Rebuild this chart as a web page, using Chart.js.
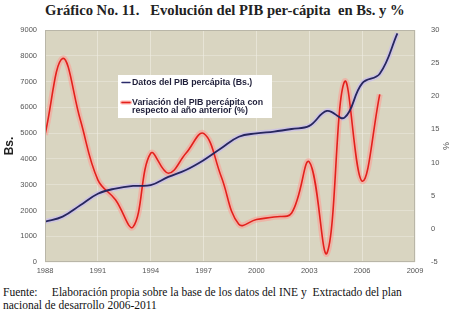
<!DOCTYPE html>
<html>
<head>
<meta charset="utf-8">
<script src="https://cdn.jsdelivr.net/npm/chart.js@4.4.1/dist/chart.umd.min.js"></script>
<style>
  body { margin: 0; background: #fff; width: 455px; height: 320px; overflow: hidden; position: relative; }
  #title { position: absolute; top: 2px; left: 0; white-space: pre; font: bold 15px "Liberation Serif", "Times New Roman", serif; color: #222; transform-origin: 0 0; }
  #wrap { position: absolute; left: 0; top: 0; width: 455px; height: 280px; }
  #foot { position: absolute; left: 3px; top: 286px; font: 11.5px "Liberation Serif", "Times New Roman", serif; color: #111; line-height: 13px; white-space: pre; }
</style>
</head>
<body>
<div id="title">Gráfico No. 11.   Evolución del PIB per-cápita  en Bs. y %</div>
<div id="wrap"><canvas id="pib" width="455" height="280"></canvas></div>
<div id="foot">Fuente:     Elaboración propia sobre la base de los datos del INE y  Extractado del plan
nacional de desarrollo 2006-2011</div>
<script>
// años y valores
var years = [1988, 1989, 1990, 1991, 1992, 1993, 1994, 1995, 1996, 1997, 1998,
             1999, 2000, 2001, 2002, 2003, 2004, 2005, 2006, 2007, 2008];
var pibBs = [1565, 1760, 2200, 2650, 2850, 2950, 2980, 3300, 3570, 3950, 4410,
             4860, 4990, 5060, 5160, 5280, 5860, 5600, 6930, 7300, 8870];
var variacion = [14.2, 25.7, 16.5, 7.4, 4.4, 0.3, 11.4, 8.4, 11.4, 14.4, 7.9,
                 0.7, 1.4, 1.8, 2.4, 10.1, -3.7, 22.2, 7.2, 20.3];
var leftTicks = [0, 1000, 2000, 3000, 4000, 5000, 6000, 7000, 8000, 9000];
var rightTicks = [-5, 0, 5, 10, 15, 20, 25, 30];
var labelPib = 'Datos del PIB percápita (Bs.)';
var labelVar = ['Variación del PIB percápita con', 'respecto al año anterior (%)'];

// titulo comprimido a lo ancho como en la imagen
var t = document.getElementById('title');
var sx = 360 / t.scrollWidth;
t.style.transform = 'scaleX(' + sx + ')';
t.style.left = '45px';

var pibPts = years.map(function(y, i) { return {x: y, y: pibBs[i]}; });
var varPts = variacion.map(function(v, i) { return {x: years[i], y: v}; });

var plotBg = {
  id: 'plotBg',
  beforeDraw: function(chart) {
    var a = chart.chartArea, ctx = chart.ctx;
    ctx.save();
    ctx.fillStyle = '#d9d5c1';
    ctx.fillRect(a.left, a.top, a.right - a.left, a.bottom - a.top);
    ctx.restore();
  },
  afterDraw: function(chart) {
    var a = chart.chartArea, ctx = chart.ctx;
    ctx.save();
    ctx.strokeStyle = '#b9b6a8';
    ctx.lineWidth = 1;
    ctx.strokeRect(a.left + 0.5, a.top + 0.5, a.right - a.left - 1, a.bottom - a.top - 1);
    // leyenda dentro del area
    var bx = 118, by = 75, bw = 154, bh = 43;
    ctx.fillStyle = '#ffffff';
    ctx.fillRect(bx, by, bw, bh);
    ctx.lineCap = 'round';
    ctx.strokeStyle = '#2b2b6b'; ctx.lineWidth = 1.5;
    ctx.beginPath(); ctx.moveTo(bx + 4, by + 7.5); ctx.lineTo(bx + 12, by + 7.5); ctx.stroke();
    ctx.strokeStyle = 'rgba(255,150,140,0.7)'; ctx.lineWidth = 4;
    ctx.beginPath(); ctx.moveTo(bx + 4, by + 27.5); ctx.lineTo(bx + 12, by + 27.5); ctx.stroke();
    ctx.strokeStyle = '#e3201c'; ctx.lineWidth = 1.5;
    ctx.beginPath(); ctx.moveTo(bx + 4, by + 27.5); ctx.lineTo(bx + 12, by + 27.5); ctx.stroke();
    ctx.fillStyle = '#1f1f3a';
    ctx.font = 'bold 8.8px "Liberation Sans", Arial, sans-serif';
    ctx.textBaseline = 'middle';
    ctx.fillText(labelPib, bx + 14, by + 7.5);
    ctx.fillText(labelVar[0], bx + 14, by + 27.5);
    ctx.fillText(labelVar[1], bx + 14, by + 36);
    ctx.restore();
  }
};

Chart.defaults.font.family = '"Liberation Sans", Arial, sans-serif';
Chart.defaults.font.size = 7.5;
Chart.defaults.color = '#555';

var chart = new Chart('pib', {
  type: 'line',
  plugins: [plotBg],
  data: {
    datasets: [
      { label: labelPib, data: pibPts, yAxisID: 'y', borderColor: '#26265e', borderWidth: 1.8,
        tension: 0.4, pointRadius: 0, order: 1 },
      { label: 'halo1', data: pibPts, yAxisID: 'y', borderColor: 'rgba(200,190,235,0.75)', borderWidth: 5,
        tension: 0.4, pointRadius: 0, order: 4 },
      { label: labelVar.join(' '), data: varPts, yAxisID: 'y2', borderColor: '#e3201c', borderWidth: 1.6,
        tension: 0.4, pointRadius: 0, order: 2 },
      { label: 'halo2', data: varPts, yAxisID: 'y2', borderColor: 'rgba(250,160,150,0.6)', borderWidth: 6,
        tension: 0.4, pointRadius: 0, order: 3 }
    ]
  },
  options: {
    responsive: false,
    animation: false,
    events: [],
    layout: { padding: { top: 30, left: 0, right: 0, bottom: 0 } },
    plugins: { legend: { display: false }, tooltip: { enabled: false } },
    scales: {
      x: {
        type: 'linear', min: 1988, max: 2009,
        afterBuildTicks: function(s) { s.ticks = [1988, 1991, 1994, 1997, 2000, 2003, 2006, 2009].map(function(v) { return {value: v}; }); },
        afterFit: function(s) { s.height = 18; },
        ticks: { padding: 4, maxRotation: 0, autoSkip: false, callback: function(v) { return String(v); } },
        grid: { color: 'rgba(240,238,228,0.6)', drawTicks: false },
        border: { display: false }
      },
      y: {
        position: 'left', min: 0, max: 9000,
        afterBuildTicks: function(s) { s.ticks = leftTicks.map(function(v) { return {value: v}; }); },
        afterFit: function(s) { s.width = 45; },
        ticks: { padding: 8, callback: function(v) { return String(v); } },
        grid: { color: 'rgba(240,238,228,0.45)', drawTicks: false },
        border: { display: false },
        title: { display: true, text: 'Bs.', color: '#222', font: { size: 12, weight: 'bold' }, padding: { top: 2, bottom: 2 } }
      },
      y2: {
        position: 'right', min: -5, max: 30,
        afterBuildTicks: function(s) { s.ticks = rightTicks.map(function(v) { return {value: v}; }); },
        afterFit: function(s) { s.width = 40; },
        ticks: { padding: 8 },
        grid: { display: false },
        border: { display: false },
        title: { display: true, text: '%', color: '#555', font: { size: 9 }, padding: { top: 4, bottom: 4 } }
      }
    }
  }
});
</script>
</body>
</html>
